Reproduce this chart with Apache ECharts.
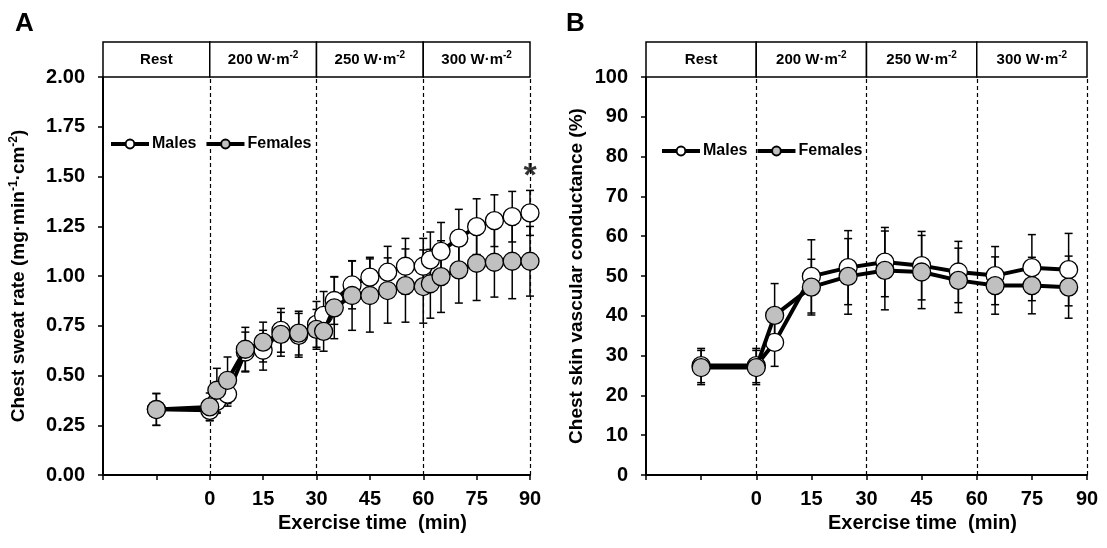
<!DOCTYPE html>
<html><head><meta charset="utf-8">
<script src="https://cdn.jsdelivr.net/npm/echarts@6/dist/echarts.min.js"></script>
<style>html,body{margin:0;padding:0;background:#fff}#c{width:1107px;height:548px}</style>
</head><body><div id="c"></div>
<script>
const FONT = '"Liberation Sans", Arial, sans-serif';

// Phase header
const phaseNames = ['Rest', '200 W·m', '250 W·m', '300 W·m'];
const phaseSup = ['', '-2', '-2', '-2'];
const phaseBounds = [-30, 0, 30, 60, 90];

// X ticks (minutes); negative ticks unlabeled
const xTicks = [-30, -15, 0, 15, 30, 45, 60, 75, 90];
const yTicksA = [0, 0.25, 0.5, 0.75, 1.0, 1.25, 1.5, 1.75, 2.0];
const yTicksB = [0, 10, 20, 30, 40, 50, 60, 70, 80, 90, 100];

// Panel A: chest sweat rate
const timeA = [-15, 0, 2, 5, 10, 15, 20, 25, 30, 32, 35, 40, 45, 50, 55, 60, 62, 65, 70, 75, 80, 85, 90];
const malesA = [0.33, 0.325, 0.37, 0.406, 0.618, 0.627, 0.727, 0.702, 0.757, 0.802, 0.877, 0.955, 0.994, 1.019, 1.049, 1.049, 1.081, 1.124, 1.19, 1.248, 1.278, 1.298, 1.317];
const malesAsd = [0.08, 0.05, 0.06, 0.06, 0.10, 0.10, 0.11, 0.11, 0.115, 0.12, 0.12, 0.12, 0.10, 0.13, 0.14, 0.14, 0.14, 0.145, 0.145, 0.14, 0.13, 0.127, 0.113];
const femalesA = [0.329, 0.342, 0.426, 0.476, 0.632, 0.668, 0.707, 0.713, 0.732, 0.722, 0.84, 0.902, 0.902, 0.927, 0.952, 0.947, 0.961, 0.997, 1.031, 1.064, 1.069, 1.074, 1.074];
const femalesAsd = [0.08, 0.07, 0.11, 0.117, 0.11, 0.10, 0.11, 0.11, 0.10, 0.10, 0.155, 0.175, 0.184, 0.164, 0.184, 0.184, 0.173, 0.18, 0.167, 0.187, 0.175, 0.188, 0.175];
const sigA = [[90, 1.50]];

// Panel B: chest skin vascular conductance
const timeB = [-15, 0, 5, 15, 25, 35, 45, 55, 65, 75, 85];
const malesB = [27.5, 27.5, 33.3, 49.9, 52.1, 53.5, 52.6, 51.0, 50.1, 52.1, 51.6];
const malesBsd = [4.3, 4.3, 6.0, 9.2, 9.3, 8.7, 8.6, 7.7, 7.3, 8.3, 9.1];
const femalesB = [27.0, 27.0, 40.1, 47.2, 49.9, 51.4, 51.0, 48.9, 47.6, 47.6, 47.2];
const femalesBsd = [4.3, 4.3, 8.0, 7.0, 9.5, 9.9, 9.2, 8.1, 7.2, 7.1, 7.8];

const chart = echarts.init(document.getElementById('c'), null, {renderer: 'canvas'});

const bold = (size) => ({fontSize: size, fontWeight: 'bold', fontFamily: FONT, color: '#000'});

function errSeries(xi, yi, times, vals, sds, z, withMarks) {
  const s = {
    type: 'custom', xAxisIndex: xi, yAxisIndex: yi, z: z, silent: true,
    data: times.map((t, i) => [t, vals[i], sds[i]]),
    renderItem(params, api) {
      const t = api.value(0), v = api.value(1), sd = api.value(2);
      const hi = api.coord([t, v + sd]), lo = api.coord([t, v - sd]);
      const w = 4, st = {stroke: '#000', lineWidth: 1.5};
      return {type: 'group', children: [
        {type: 'line', shape: {x1: hi[0], y1: hi[1], x2: lo[0], y2: lo[1]}, style: st},
        {type: 'line', shape: {x1: hi[0] - w, y1: hi[1], x2: hi[0] + w, y2: hi[1]}, style: st},
        {type: 'line', shape: {x1: lo[0] - w, y1: lo[1], x2: lo[0] + w, y2: lo[1]}, style: st}
      ]};
    }
  };
  if (withMarks) {
    s.markLine = {
      silent: true, symbol: 'none', z: 0,
      lineStyle: {type: [4, 3], color: '#000', width: 1.2},
      label: {show: false},
      data: phaseBounds.slice(1).map(x => ({xAxis: x}))
    };
  }
  return s;
}

function headerSeries(xi, yi) {
  return {
    type: 'custom', xAxisIndex: xi, yAxisIndex: yi, silent: true,
    data: phaseNames.map((n, i) => [phaseBounds[i], phaseBounds[i + 1], i]),
    renderItem(params, api) {
      const a = api.coord([api.value(0), 1]), b = api.coord([api.value(1), 0]);
      const i = api.value(2);
      const txt = phaseSup[i] ? '{n|' + phaseNames[i] + '}{s|' + phaseSup[i] + '}' : '{n|' + phaseNames[i] + '}';
      return {type: 'group', children: [
        {type: 'rect', shape: {x: a[0], y: a[1], width: b[0] - a[0], height: b[1] - a[1]},
         style: {fill: '#fff', stroke: '#000', lineWidth: 1.5}},
        {type: 'text', x: (a[0] + b[0]) / 2, y: (a[1] + b[1]) / 2,
         style: {text: txt, align: 'center', verticalAlign: 'middle',
           rich: {n: {fontSize: 15, fontWeight: 'bold', fontFamily: FONT, fill: '#000', lineHeight: 18},
                  s: {fontSize: 10, fontWeight: 'bold', fontFamily: FONT, fill: '#000', verticalAlign: 'top', lineHeight: 18, padding: [0, 0, 8, 0]}}}}
      ]};
    }
  };
}

function lineSeries(name, xi, yi, times, vals, fill, z) {
  return {
    name: name, type: 'line', xAxisIndex: xi, yAxisIndex: yi, z: z,
    data: times.map((t, i) => [t, vals[i]]),
    symbol: 'circle', symbolSize: 18, showSymbol: true,
    lineStyle: {color: '#000', width: 4},
    itemStyle: {color: fill, borderColor: '#000', borderWidth: 1.3},
    emphasis: {disabled: true}
  };
}

function xMain(gi) {
  return {
    gridIndex: gi, type: 'value', min: xTicks[0], max: xTicks[xTicks.length - 1], interval: xTicks[1] - xTicks[0],
    axisLine: {onZero: false, lineStyle: {color: '#000', width: 2}},
    axisTick: {length: 5, lineStyle: {color: '#000', width: 1.5}},
    axisLabel: Object.assign({formatter: v => (v >= 0 ? String(v) : ''), margin: 14}, bold(20)),
    splitLine: {show: false},
    name: 'Exercise time  (min)', nameLocation: 'middle', nameGap: 38,
    nameTextStyle: Object.assign({padding: [0, 0, 0, 112]}, bold(20))
  };
}
function xHead(gi) {
  return {gridIndex: gi, type: 'value', min: phaseBounds[0], max: phaseBounds[phaseBounds.length - 1], show: false};
}
function yHead(gi) {
  return {gridIndex: gi, type: 'value', min: 0, max: 1, show: false};
}
function yMain(gi, ticks, fmt, nameRich, gap) {
  return {
    gridIndex: gi, type: 'value', min: ticks[0], max: ticks[ticks.length - 1], interval: ticks[1] - ticks[0],
    axisLine: {show: true, onZero: false, lineStyle: {color: '#000', width: 2}},
    axisTick: {show: true, length: 5, lineStyle: {color: '#000', width: 1.5}},
    axisLabel: Object.assign({formatter: fmt, margin: 18}, bold(20)),
    splitLine: {show: false},
    name: nameRich, nameLocation: 'middle', nameGap: gap,
    nameTextStyle: {rich: {
      a: {fontSize: 19, fontWeight: 'bold', fontFamily: FONT, color: '#000', lineHeight: 22},
      s: {fontSize: 12, fontWeight: 'bold', fontFamily: FONT, color: '#000', verticalAlign: 'top', lineHeight: 22, padding: [0, 0, 8, 0]}
    }}
  };
}

const legendCommon = {
  data: ['Males', 'Females'], orient: 'horizontal', itemWidth: 38, itemHeight: 11, itemGap: 8,
  selectedMode: false, lineStyle: {width: 4, color: '#000'},
  textStyle: Object.assign({padding: [0, 0, 0, -2]}, bold(16))
};

const option = {
  animation: false,
  backgroundColor: '#fff',
  title: [
    {text: 'A', left: 10, top: 6, textStyle: bold(26)},
    {text: 'B', left: 561, top: 6, textStyle: bold(26)}
  ],
  legend: [
    Object.assign({left: 104, top: 131}, legendCommon),
    Object.assign({left: 655, top: 138}, legendCommon)
  ],
  grid: [
    {left: 103, right: 577, top: 77, bottom: 73},
    {left: 103, right: 577, top: 42, height: 35},
    {left: 646, right: 20, top: 77, bottom: 73},
    {left: 646, right: 20, top: 42, height: 35}
  ],
  xAxis: [xMain(0), xHead(1), xMain(2), xHead(3)],
  yAxis: [
    yMain(0, yTicksA, v => v.toFixed(2), '{a|Chest sweat rate (mg·min}{s|-1}{a|·cm}{s|-2}{a|)}', 73),
    yHead(1),
    yMain(2, yTicksB, v => String(v), '{a|Chest skin vascular conductance (%)}', 58),
    yHead(3)
  ],
  series: [
    headerSeries(1, 1),
    headerSeries(3, 3),
    errSeries(0, 0, timeA, malesA, malesAsd, 1, true),
    errSeries(0, 0, timeA, femalesA, femalesAsd, 1, false),
    errSeries(2, 2, timeB, malesB, malesBsd, 1, true),
    errSeries(2, 2, timeB, femalesB, femalesBsd, 1, false),
    lineSeries('Males', 0, 0, timeA, malesA, '#fff', 3),
    lineSeries('Females', 0, 0, timeA, femalesA, '#c0c0c0', 4),
    lineSeries('Males', 2, 2, timeB, malesB, '#fff', 3),
    lineSeries('Females', 2, 2, timeB, femalesB, '#c0c0c0', 4),
    {
      type: 'scatter', xAxisIndex: 0, yAxisIndex: 0, z: 5, silent: true,
      data: sigA, symbolSize: 1, itemStyle: {color: 'rgba(0,0,0,0)'},
      label: Object.assign({show: true, position: 'inside', formatter: '*'}, bold(34))
    }
  ]
};
chart.setOption(option);
</script>
</body></html>
